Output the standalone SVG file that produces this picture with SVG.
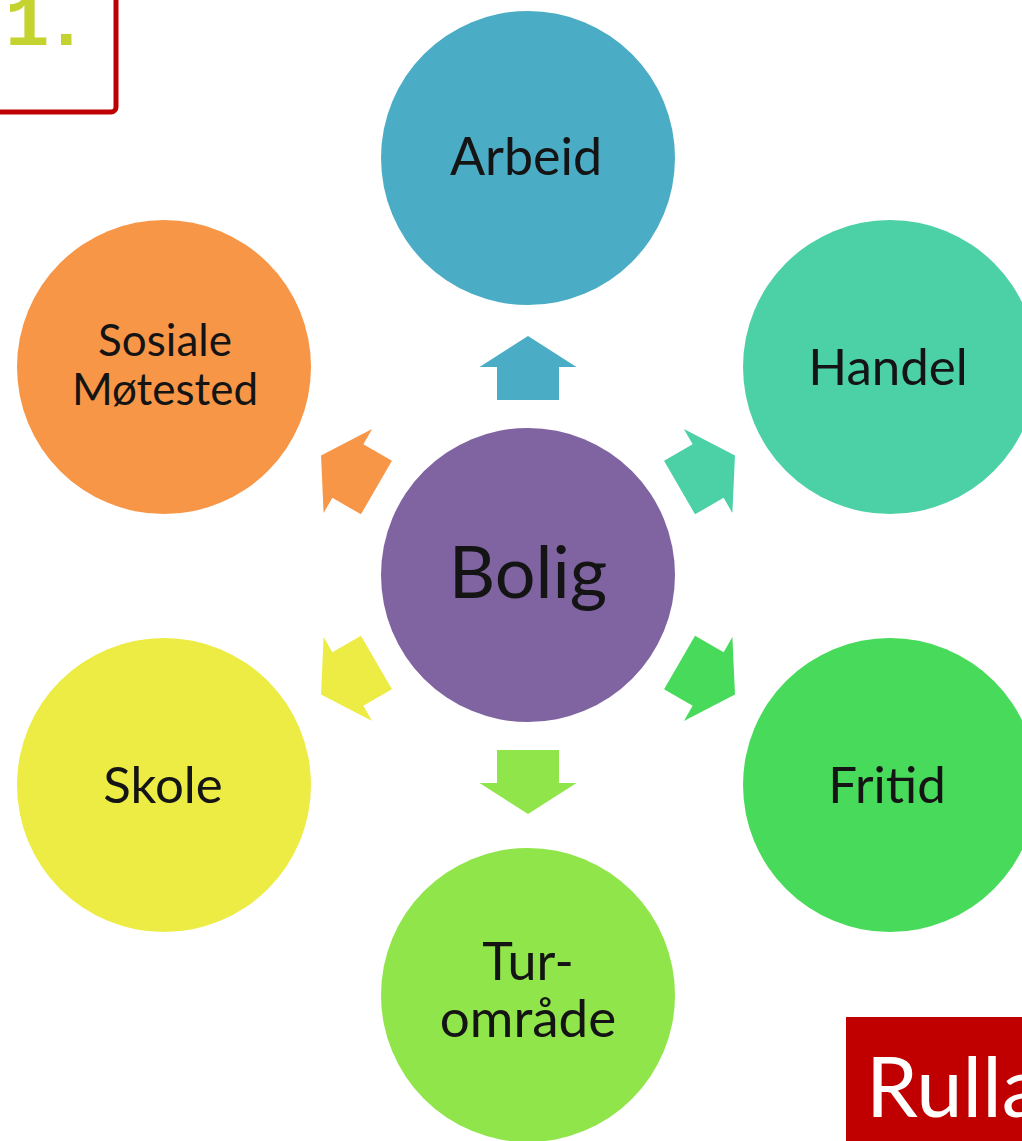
<svg xmlns="http://www.w3.org/2000/svg" width="1022" height="1141" viewBox="0 0 1022 1141">
<style>
.lbl{font-family:Lato,"Open Sans","Liberation Sans",sans-serif;fill:#141414;text-anchor:middle}
</style>
<defs>
<polygon id="arr" points="-31,-175 31,-175 31,-208 48.5,-208 0,-239 -48.5,-208 -31,-208"/>
</defs>
<rect width="1022" height="1141" fill="#ffffff"/>
<g id="title-box">
<rect x="-20" y="-20" width="136" height="132" rx="5" fill="#ffffff" stroke="#c00000" stroke-width="5"/>
<text x="5 44" y="45" font-family="Liberation Mono,monospace" font-weight="bold" font-size="74" fill="#c4d330">1.</text>
</g>
<g id="connectors" transform="translate(528,575)">
<use href="#arr" fill="#4bacc6"/>
<use href="#arr" fill="#4cd0a6" transform="rotate(60)"/>
<use href="#arr" fill="#48da5a" transform="rotate(120)"/>
<use href="#arr" fill="#8fe54a" transform="rotate(180)"/>
<use href="#arr" fill="#ecec45" transform="rotate(240)"/>
<use href="#arr" fill="#f79646" transform="rotate(300)"/>
</g>
<g id="bolig">
<circle cx="528" cy="575" r="147" fill="#8064a2"/>
<text class="lbl" x="528" y="598" font-size="72">Bolig</text>
</g>
<g id="arbeid">
<circle cx="528" cy="158" r="147" fill="#4bacc6"/>
<text class="lbl" x="526" y="175" font-size="52">Arbeid</text>
</g>
<g id="handel">
<circle cx="890" cy="367" r="147" fill="#4cd0a6"/>
<text class="lbl" x="888" y="385" font-size="51">Handel</text>
</g>
<g id="fritid">
<circle cx="890" cy="785" r="147" fill="#48da5a"/>
<text class="lbl" x="887" y="803" font-size="51">Fritid</text>
</g>
<g id="turomrade">
<circle cx="528" cy="995" r="147" fill="#8fe54a"/>
<text class="lbl" x="528" y="980" font-size="52">Tur-</text>
<text class="lbl" x="528" y="1037" font-size="53">område</text>
</g>
<g id="skole">
<circle cx="164" cy="785" r="147" fill="#ecec45"/>
<text class="lbl" x="163" y="803" font-size="51">Skole</text>
</g>
<g id="sosiale">
<circle cx="164" cy="367" r="147" fill="#f79646"/>
<text class="lbl" x="165" y="356" font-size="44">Sosiale</text>
<text class="lbl" x="165" y="405" font-size="44">Møtested</text>
</g>
<g id="rulla">
<rect x="846" y="1017" width="200" height="140" fill="#c00000"/>
<text x="866" y="1117" font-family="Lato,'Open Sans',sans-serif" font-size="83" fill="#ffffff">Rulla</text>
</g>
</svg>
